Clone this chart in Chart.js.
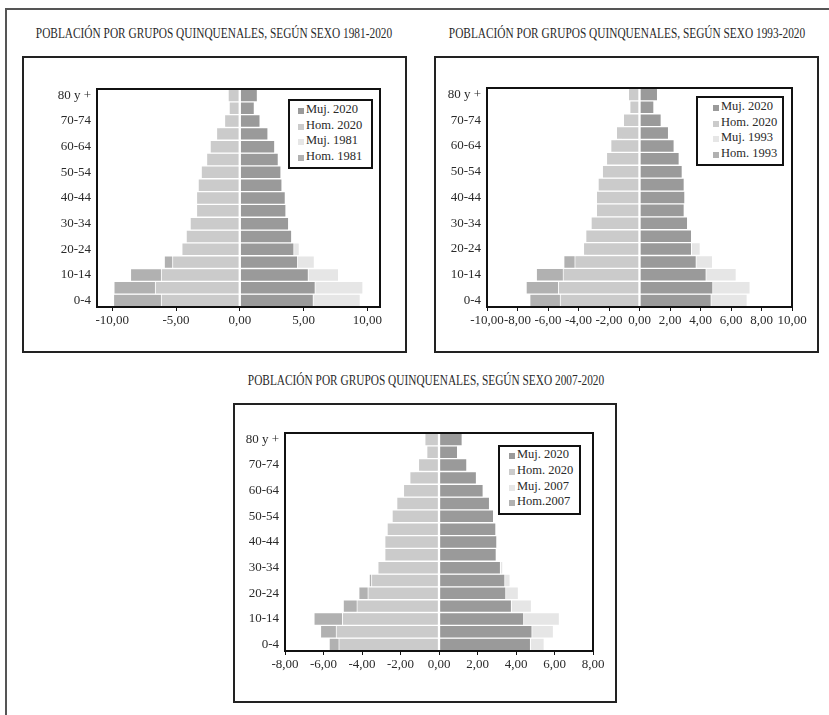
<!DOCTYPE html>
<html>
<head>
<meta charset="utf-8">
<script src="https://cdn.jsdelivr.net/npm/chart.js@4.4.1/dist/chart.umd.min.js"></script>
<style>
  body {
    margin: 0;
    width: 829px;
    height: 715px;
    position: relative;
    overflow: hidden;
    background: #fff;
    font-family: "Liberation Serif", serif;
    color: #2a2a2a;
  }
  .frame {
    position: absolute;
    left: 5px;
    top: 8px;
    width: 900px;
    height: 800px;
    border-left: 2px solid #555;
    border-top: 2px solid #555;
  }
  .title {
    position: absolute;
    width: 600px;
    text-align: center;
    white-space: nowrap;
    font-size: 14px;
    line-height: 16px;
    transform: scaleX(0.81);
    transform-origin: 50% 50%;
  }
  .box {
    position: absolute;
    box-sizing: border-box;
    border: 2px solid #222;
  }
  canvas {
    position: absolute;
  }
  .legend {
    position: absolute;
    box-sizing: border-box;
    border: 2px solid #111;
    background: #fff;
    font-size: 12.5px;
  }
  .legend .item {
    position: absolute;
    white-space: nowrap;
    line-height: 15px;
  }
  .legend .mark {
    position: absolute;
    width: 6px;
    height: 6px;
  }
</style>
</head>
<body>
<div class="frame"></div>

<div class="title" style="left: -86px; top: 26px;">POBLACIÓN POR GRUPOS QUINQUENALES, SEGÚN SEXO 1981-2020</div>
<div class="title" style="left: 327px; top: 26px;">POBLACIÓN POR GRUPOS QUINQUENALES, SEGÚN SEXO 1993-2020</div>
<div class="title" style="left: 126px; top: 373px;">POBLACIÓN POR GRUPOS QUINQUENALES, SEGÚN SEXO 2007-2020</div>

<div class="box" style="left: 22px; top: 56px; width: 385px; height: 297px;"></div>
<div class="box" style="left: 434px; top: 56px; width: 385px; height: 297px;"></div>
<div class="box" style="left: 233px; top: 403px; width: 384px; height: 300px;"></div>

<canvas id="chart1" width="385" height="297" style="left: 22px; top: 56px;"></canvas>
<canvas id="chart2" width="385" height="297" style="left: 434px; top: 56px;"></canvas>
<canvas id="chart3" width="384" height="300" style="left: 233px; top: 403px;"></canvas>

<div class="legend" id="legend1" style="left: 288px; top: 99px; width: 85px; height: 70px;"></div>
<div class="legend" id="legend2" style="left: 696px; top: 96px; width: 88px; height: 70px;"></div>
<div class="legend" id="legend3" style="left: 498px; top: 445px; width: 83px; height: 70px;"></div>

<script>
"use strict";

// age groups, bottom (0-4) to top (80 y +)
let ageGroups = ["0-4", "5-9", "10-14", "15-19", "20-24", "25-29", "30-34", "35-39",
  "40-44", "45-49", "50-54", "55-59", "60-64", "65-69", "70-74", "75-79", "80 y +"];

// chart 1: 1981-2020
let muj2020a = [5.78, 5.93, 5.39, 4.55, 4.26, 4.08, 3.84, 3.63, 3.58, 3.32, 3.24, 3.03, 2.75, 2.22, 1.60, 1.15, 1.39];
let hom2020a = [-6.17, -6.64, -6.17, -5.28, -4.55, -4.21, -3.90, -3.40, -3.40, -3.27, -3.03, -2.61, -2.33, -1.83, -1.20, -0.84, -0.92];
let muj1981 = [9.46, 9.67, 7.76, 5.86, 4.68, 3.60, 3.00, 2.90, 2.80, 2.80, 2.70, 2.50, 2.20, 1.90, 1.40, 0.90, 0.80];
let hom1981 = [-9.91, -9.88, -8.58, -5.93, -4.40, -3.60, -3.00, -2.80, -2.70, -2.70, -2.60, -2.30, -2.00, -1.60, -1.10, -0.60, -0.50];

// chart 2: 1993-2020
let muj2020b = [4.71, 4.82, 4.38, 3.73, 3.42, 3.42, 3.16, 2.94, 2.98, 2.94, 2.81, 2.61, 2.28, 1.91, 1.43, 0.95, 1.19];
let hom2020b = [-5.21, -5.32, -5.02, -4.25, -3.68, -3.53, -3.18, -2.83, -2.83, -2.72, -2.44, -2.17, -1.89, -1.52, -1.06, -0.64, -0.73];
let muj1993 = [7.07, 7.26, 6.35, 4.80, 3.99, 3.20, 2.90, 2.70, 2.60, 2.50, 2.40, 2.20, 1.90, 1.60, 1.10, 0.70, 0.70];
let hom1993 = [-7.20, -7.44, -6.77, -4.97, -3.50, -3.20, -2.90, -2.60, -2.50, -2.40, -2.20, -1.90, -1.60, -1.20, -0.80, -0.50, -0.40];

// chart 3: 2007-2020
let muj2020c = [4.76, 4.84, 4.41, 3.77, 3.48, 3.43, 3.20, 2.98, 3.01, 2.96, 2.84, 2.63, 2.30, 1.95, 1.45, 0.97, 1.21];
let hom2020c = [-5.21, -5.35, -5.02, -4.27, -3.70, -3.51, -3.18, -2.82, -2.82, -2.70, -2.44, -2.20, -1.85, -1.52, -1.07, -0.64, -0.74];
let muj2007 = [5.47, 5.95, 6.26, 4.81, 4.13, 3.70, 3.32, 2.80, 2.85, 2.80, 2.70, 2.50, 2.10, 1.80, 1.30, 0.80, 0.90];
let hom2007 = [-5.71, -6.16, -6.50, -4.98, -4.17, -3.63, -3.10, -2.75, -2.70, -2.60, -2.30, -2.00, -1.70, -1.30, -0.90, -0.55, -0.50];

// x axis ticks
let ticks1 = [-10, -5, 0, 5, 10];
let ticks2 = [-10, -8, -6, -4, -2, 0, 2, 4, 6, 8, 10];
let ticks3 = [-8, -6, -4, -2, 0, 2, 4, 6, 8];

let legend1 = ["Muj. 2020", "Hom. 2020", "Muj. 1981", "Hom. 1981"];
let legend2 = ["Muj. 2020", "Hom. 2020", "Muj. 1993", "Hom. 1993"];
let legend3 = ["Muj. 2020", "Hom. 2020", "Muj. 2007", "Hom.2007"];

let colors = ["#9a9a9a", "#cbcbcb", "#e6e6e6", "#b1b1b1"];

let fontFamily = "'Liberation Serif', serif";
let textColor = "#2a2a2a";

// box around the plot area
let plotFrame = {
  id: "plotFrame",
  afterDraw(chart) {
    let a = chart.chartArea;
    let ctx = chart.ctx;
    ctx.save();
    ctx.strokeStyle = "#111";
    ctx.lineWidth = 2;
    ctx.strokeRect(a.left, a.top, a.right - a.left, a.bottom - a.top);
    ctx.restore();
  }
};

function formatTick(value) {
  return value.toFixed(2).replace(".", ",");
}

function makeChart(canvasId, labels, seriesList, xMin, xMax, tickValues, yWidth, pad) {
  let datasets = [];
  for (let i = 0; i < seriesList.length; i++) {
    datasets.push({
      label: labels[i],
      data: seriesList[i],
      backgroundColor: colors[i]
    });
  }
  let ctx = document.getElementById(canvasId);
  return new Chart(ctx, {
    type: "bar",
    data: {
      labels: ageGroups,
      datasets: datasets
    },
    options: {
      indexAxis: "y",
      responsive: false,
      animation: false,
      devicePixelRatio: 1,
      layout: { padding: pad },
      datasets: {
        bar: {
          grouped: false,
          barPercentage: 1,
          categoryPercentage: 1,
          borderColor: "#fff",
          borderWidth: 1,
          borderSkipped: false
        }
      },
      plugins: {
        legend: { display: false },
        tooltip: { enabled: false }
      },
      scales: {
        x: {
          type: "linear",
          min: xMin,
          max: xMax,
          afterBuildTicks: function (scale) {
            scale.ticks = tickValues.map(function (v) { return { value: v }; });
          },
          afterFit: function (scale) {
            scale.height = 30;
          },
          border: { display: false },
          grid: {
            drawOnChartArea: false,
            drawTicks: true,
            tickLength: 4,
            color: "#111",
            lineWidth: 1
          },
          ticks: {
            padding: 2,
            color: textColor,
            font: { family: fontFamily, size: 13 },
            maxRotation: 0,
            autoSkip: false,
            callback: formatTick
          }
        },
        y: {
          type: "category",
          reverse: true,
          afterFit: function (scale) {
            scale.width = yWidth;
          },
          border: { display: false },
          grid: { display: false, drawTicks: false },
          ticks: {
            padding: 6,
            autoSkip: false,
            color: textColor,
            font: { family: fontFamily, size: 13 },
            callback: function (value) {
              return value % 2 === 0 ? ageGroups[value] : "";
            }
          }
        }
      }
    },
    plugins: [plotFrame]
  });
}

function makeLegend(id, labels, markLeft, firstY, stepY) {
  let box = document.getElementById(id);
  for (let i = 0; i < labels.length; i++) {
    let mark = document.createElement("div");
    mark.className = "mark";
    mark.style.background = colors[i];
    mark.style.left = markLeft + "px";
    mark.style.top = (firstY + i * stepY - 2) + "px";
    box.appendChild(mark);
    let item = document.createElement("div");
    item.className = "item";
    item.textContent = labels[i];
    item.style.left = (markLeft + 8) + "px";
    item.style.top = (firstY + i * stepY - 8) + "px";
    box.appendChild(item);
  }
}

makeChart("chart1", legend1, [muj2020a, hom2020a, muj1981, hom1981], -11.2, 11, ticks1, 60,
  { left: 15, right: 27, top: 33, bottom: 16 });
makeChart("chart2", legend2, [muj2020b, hom2020b, muj1993, hom1993], -10, 10, ticks2, 45,
  { left: 8, right: 27, top: 32, bottom: 16 });
makeChart("chart3", legend3, [muj2020c, hom2020c, muj2007, hom2007], -8, 8, ticks3, 45,
  { left: 7, right: 24, top: 30, bottom: 22 });

makeLegend("legend1", legend1, 8, 9, 15.5);
makeLegend("legend2", legend2, 15, 9, 15.5);
makeLegend("legend3", legend3, 9, 8, 15.8);
</script>
</body>
</html>
